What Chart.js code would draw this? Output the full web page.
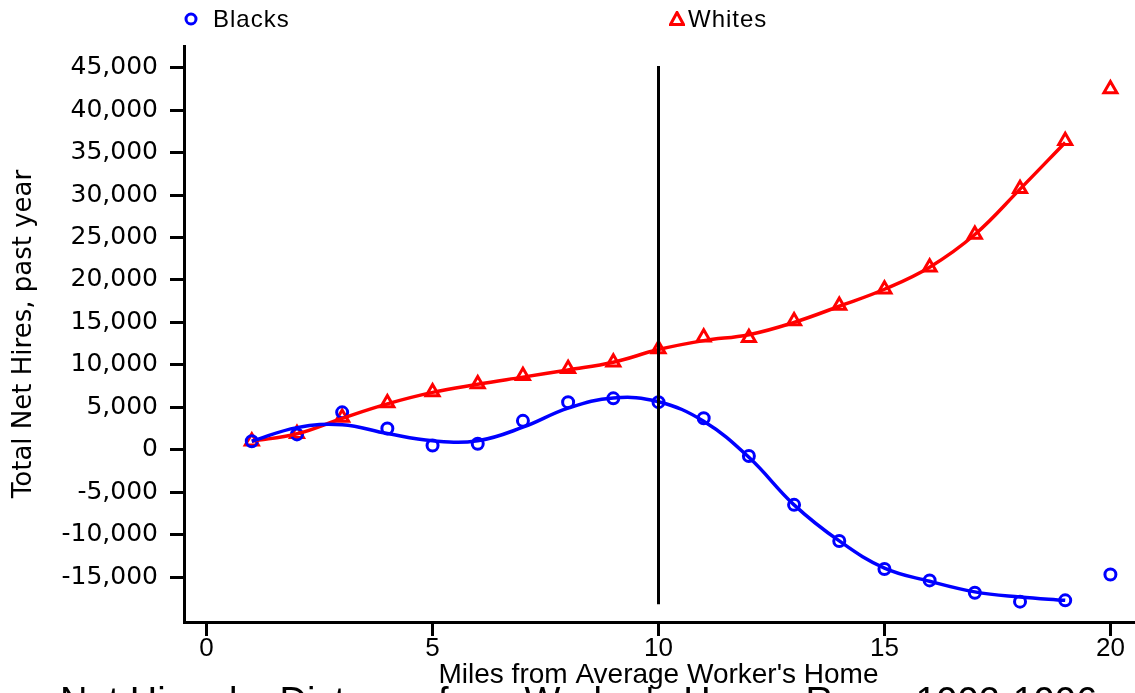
<!DOCTYPE html>
<html>
<head>
<meta charset="utf-8">
<title>Net Hires by Distance</title>
<script src="https://cdn.jsdelivr.net/npm/chart.js@4.4.1/dist/chart.umd.min.js"></script>
<style>
  html, body { margin: 0; padding: 0; background: #fff; overflow: hidden; }
  #wrap { position: relative; width: 1135px; height: 693px; overflow: hidden; }
  #chart { position: absolute; left: 0; top: 0; }
  .legend-mark { position: absolute; top: 11px; }
  .legend-text { position: absolute; top: 7px; font: 24px "Liberation Sans", Arial, sans-serif; line-height: 1; letter-spacing: 1px; color: #000; }
  #caption { position: absolute; left: 60px; top: 682px; font: 38px "Liberation Sans", Arial, sans-serif; line-height: 1; white-space: nowrap; color: #000; }
</style>
</head>
<body>
<div id="wrap">
  <canvas id="chart" width="1135" height="693"></canvas>
  <svg class="legend-mark" style="left:183px" width="16" height="16"><circle cx="8" cy="8" r="5" fill="none" stroke="#0000ff" stroke-width="3"/></svg>
  <div class="legend-text" style="left:213px">Blacks</div>
  <svg class="legend-mark" style="left:669px" width="16" height="16"><polygon points="8,1.5 14.5,13.5 1.5,13.5" fill="none" stroke="#ff0000" stroke-width="3"/></svg>
  <div class="legend-text" style="left:688px">Whites</div>
  <div id="caption">Net Hires by Distance from Worker's Home, Race, 1992-1996</div>
</div>
<script>
// miles from the average worker's home
const miles = [1, 2, 3, 4, 5, 6, 7, 8, 9, 10, 11, 12, 13, 14, 15, 16, 17, 18, 19, 20];

// observed net hires
const blacks = [1000, 1800, 4400, 2500, 500, 700, 3400, 5600, 6050, 5600, 3700, -750, -6500, -10750, -14050, -15400, -16850, -17900, -17750, -14700];
const whites = [1000, 1870, 3800, 5500, 6800, 7750, 8700, 9550, 10300, 11850, 13250, 13200, 15150, 17000, 18900, 21500, 25350, 30750, 36400, 42500];

// smoothed fits (drawn for miles 1-19)
const fitMiles = [1, 2, 3, 4, 5, 6, 7, 8, 9, 10, 11, 12, 13, 14, 15, 16, 17, 18, 19];
const blacksFit = [1000, 2600, 2950, 1900, 1050, 1050, 2650, 4900, 6100, 5650, 3350, -900, -6500, -10750, -13950, -15500, -16750, -17350, -17750];
const whitesFit = [1000, 1870, 3700, 5400, 6750, 7700, 8550, 9400, 10300, 11800, 12850, 13550, 15000, 16900, 18900, 21500, 25350, 30700, 36200];

// vertical reference line at 10 miles
const refMiles = [10, 10];
const refValues = [45200, -18200];

const xTicks = [0, 5, 10, 15, 20];
const yTicks = [-15000, -10000, -5000, 0, 5000, 10000, 15000, 20000, 25000, 30000, 35000, 40000, 45000];

const pts = (xs, ys) => xs.map((x, i) => ({ x, y: ys[i] }));

const axisFont = { family: '"Liberation Sans", Arial, sans-serif', size: 26, lineHeight: 1 };
const yFont = { family: '"DejaVu Sans", Verdana, sans-serif', size: 25 };

// keep the plot box fixed, no extra room for edge labels
const noEdgePad = (scale) => {
    scale.paddingLeft = 0;
    scale.paddingRight = 0;
    scale.paddingTop = 0;
    scale.paddingBottom = 0;
};

new Chart(document.getElementById('chart'), {
    type: 'line',
    data: {
        datasets: [
            {
                label: 'ref',
                data: pts(refMiles, refValues),
                borderColor: '#000',
                borderWidth: 3,
                pointRadius: 0,
                tension: 0,
            },
            {
                label: 'Blacks fit',
                data: pts(fitMiles, blacksFit),
                borderColor: '#0000ff',
                borderWidth: 3.5,
                pointRadius: 0,
                tension: 0.4,
            },
            {
                label: 'Whites fit',
                data: pts(fitMiles, whitesFit),
                borderColor: '#ff0000',
                borderWidth: 3.5,
                pointRadius: 0,
                tension: 0.4,
            },
            {
                label: 'Blacks',
                data: pts(miles, blacks),
                showLine: false,
                pointStyle: 'circle',
                pointRadius: 5.5,
                pointBorderWidth: 3,
                pointBorderColor: '#0000ff',
                pointBackgroundColor: 'rgba(0,0,0,0)',
            },
            {
                label: 'Whites',
                data: pts(miles, whites),
                showLine: false,
                pointStyle: 'triangle',
                pointRadius: 7.5,
                pointBorderWidth: 3,
                pointBorderColor: '#ff0000',
                pointBackgroundColor: 'rgba(0,0,0,0)',
            },
        ],
    },
    options: {
        responsive: false,
        animation: false,
        devicePixelRatio: 1,
        layout: { autoPadding: false, padding: { left: 0, right: 2, top: 46, bottom: 0 } },
        plugins: {
            legend: { display: false },
            tooltip: { enabled: false },
        },
        scales: {
            x: {
                type: 'linear',
                min: -0.5,
                max: 20.5,
                afterFit: (scale) => { scale.height = 71; noEdgePad(scale); },
                afterBuildTicks: (scale) => { scale.ticks = xTicks.map((v) => ({ value: v })); },
                border: { display: true, color: '#000', width: 3 },
                grid: { drawOnChartArea: false, drawTicks: true, tickLength: 14, color: '#000', lineWidth: 3 },
                ticks: { color: '#000', font: axisFont, padding: 0, maxRotation: 0 },
                title: {
                    display: true,
                    text: "Miles from Average Worker's Home",
                    color: '#000',
                    font: { family: '"Liberation Sans", Arial, sans-serif', size: 28, lineHeight: 1 },
                    padding: { top: 0, bottom: 4 },
                },
            },
            y: {
                type: 'linear',
                min: -20300,
                max: 47560,
                afterFit: (scale) => { scale.width = 184; noEdgePad(scale); },
                afterBuildTicks: (scale) => { scale.ticks = yTicks.map((v) => ({ value: v })); },
                border: { display: true, color: '#000', width: 3 },
                grid: { drawOnChartArea: false, drawTicks: true, tickLength: 14, color: '#000', lineWidth: 3 },
                ticks: {
                    color: '#000',
                    font: yFont,
                    padding: 12,
                    callback: (v) => v.toLocaleString('en-US'),
                },
                title: {
                    display: true,
                    text: 'Total Net Hires, past year',
                    color: '#000',
                    font: { family: '"DejaVu Sans", Verdana, sans-serif', size: 26 },
                    padding: { top: 9, bottom: 0 },
                },
            },
        },
    },
});
</script>
</body>
</html>
